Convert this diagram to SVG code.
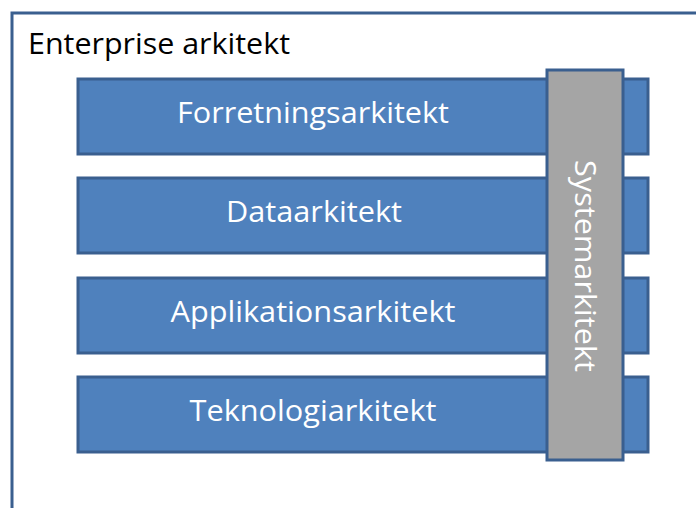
<svg xmlns="http://www.w3.org/2000/svg" width="696" height="508" viewBox="0 0 696 508">
<style>
.bar{fill:#4F81BD;stroke:#3A5F8F;stroke-width:3}
.lbl{font-family:"Open Sans","Liberation Sans",sans-serif;font-size:28.5px;fill:#FFFFFF;text-anchor:middle}
</style>
<rect width="696" height="508" fill="#FFFFFF"/>
<g id="frame">
<rect x="12" y="13" width="700" height="510" fill="#FFFFFF" stroke="#3A5F8F" stroke-width="3"/>
<text x="28" y="54" font-family="Open Sans, Liberation Sans, sans-serif" font-size="28.5" fill="#000000" textLength="262" lengthAdjust="spacingAndGlyphs">Enterprise arkitekt</text>
</g>
<g id="forretning">
<rect class="bar" x="78" y="79" width="570" height="75"/>
<text class="lbl" x="313" y="123" textLength="272" lengthAdjust="spacingAndGlyphs">Forretningsarkitekt</text>
</g>
<g id="data">
<rect class="bar" x="78" y="178" width="570" height="75"/>
<text class="lbl" x="314" y="222" textLength="176" lengthAdjust="spacingAndGlyphs">Dataarkitekt</text>
</g>
<g id="applikation">
<rect class="bar" x="78" y="278" width="570" height="75"/>
<text class="lbl" x="313" y="322" textLength="285" lengthAdjust="spacingAndGlyphs">Applikationsarkitekt</text>
</g>
<g id="teknologi">
<rect class="bar" x="78" y="377" width="570" height="75"/>
<text class="lbl" x="313" y="421" textLength="247" lengthAdjust="spacingAndGlyphs">Teknologiarkitekt</text>
</g>
<g id="system">
<rect x="547" y="70" width="76" height="390" fill="#A5A5A5" stroke="#3A5F8F" stroke-width="3"/>
<text class="lbl" transform="translate(575,266) rotate(90)" x="0" y="0" textLength="212" lengthAdjust="spacingAndGlyphs">Systemarkitekt</text>
</g>
<g id="connectors"/>
</svg>
